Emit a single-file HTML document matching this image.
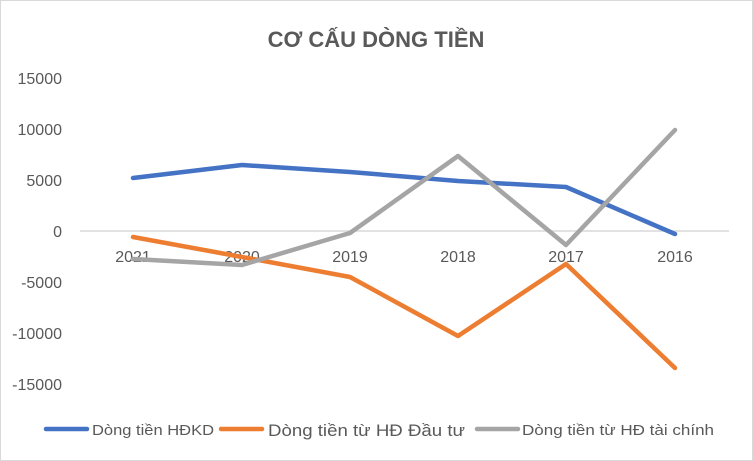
<!DOCTYPE html>
<html><head><meta charset="utf-8"><style>
body{margin:0;background:#fff}
svg{display:block;font-family:"Liberation Sans",sans-serif}
</style></head><body>
<svg width="753" height="461" viewBox="0 0 753 461">
<rect x="0.5" y="0.5" width="752" height="460" fill="#fff" stroke="#d9d9d9"/>
<text x="376" y="47" text-anchor="middle" font-size="22" font-weight="bold" fill="#595959">CƠ CẤU DÒNG TIỀN</text>
<g font-size="16" fill="#595959" text-anchor="end">
<text x="62" y="84">15000</text><text x="62" y="135">10000</text><text x="62" y="186">5000</text>
<text x="62" y="237">0</text><text x="62" y="288">-5000</text><text x="62" y="339">-10000</text><text x="62" y="390">-15000</text>
</g>
<line x1="80" y1="231" x2="729" y2="231" stroke="#d9d9d9" stroke-width="1.5"/>
<g font-size="16" fill="#595959" text-anchor="middle">
<text x="133" y="262">2021</text><text x="242" y="262">2020</text><text x="350" y="262">2019</text>
<text x="458" y="262">2018</text><text x="566" y="262">2017</text><text x="675" y="262">2016</text>
</g>
<g fill="none" stroke-width="4.5" stroke-linejoin="round" stroke-linecap="round">
<polyline stroke="#4472c4" points="133,178 242,165 350,172 458,181 566,187 675,234"/>
<polyline stroke="#ed7d31" points="133,237 242,257 350,277 458,336 566,264 675,368"/>
<polyline stroke="#a5a5a5" points="133,259 242,265 350,233 458,156 566,245 675,130"/>
</g>
<g stroke-width="4.5" stroke-linecap="round">
<line x1="46" y1="429" x2="87" y2="429" stroke="#4472c4"/>
<line x1="221" y1="429" x2="262" y2="429" stroke="#ed7d31"/>
<line x1="477" y1="429" x2="518" y2="429" stroke="#a5a5a5"/>
</g>
<g fill="#595959">
<text x="92" y="435" font-size="15" textLength="122" lengthAdjust="spacingAndGlyphs">Dòng tiền HĐKD</text>
<text x="268" y="436" font-size="17" textLength="197" lengthAdjust="spacingAndGlyphs">Dòng tiền từ HĐ Đầu tư</text>
<text x="522" y="435" font-size="15" textLength="192" lengthAdjust="spacingAndGlyphs">Dòng tiền từ HĐ tài chính</text>
</g>
</svg>
</body></html>
